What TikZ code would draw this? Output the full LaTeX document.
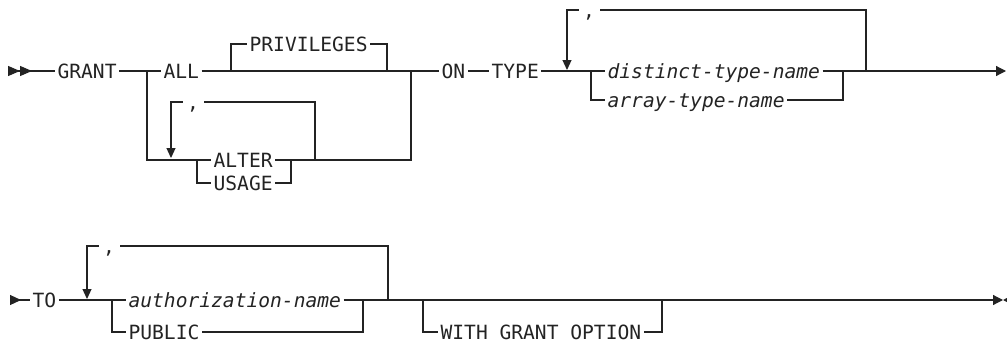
\documentclass[tikz,border=0pt]{standalone}
\usepackage{fontspec}
\usepackage{tikz}
\usetikzlibrary{arrows.meta}
\newfontfamily\railfont{DejaVu Sans Mono}[ItalicFont={DejaVu Sans Mono Oblique}]
\definecolor{RailInk}{RGB}{35,35,35}

\begin{document}
\begin{tikzpicture}[x=1pt,y=-1pt,line width=1.2pt,RailInk,font=\railfont\fontsize{19.6pt}{20pt}\selectfont,
  kw/.style={anchor=west,inner xsep=2pt,inner ysep=0pt,text height=14.4pt,text depth=0pt},
  sepc/.style={kw,anchor=center,inner xsep=4pt},
  loopdown/.style={-{Triangle[length=10pt,width=9pt]}},
  railend/.style={-{Triangle[length=10pt,width=10pt]}},
  railstart/.style={{Triangle[reversed,length=12pt,width=10pt]Triangle[reversed,length=12pt,width=10pt]}-},
  railcont/.style={{Triangle[reversed,length=11pt,width=10pt]}-}]
\useasboundingbox (0,0) rectangle (1007,343);
\node[kw] (grant) at (55,71) {GRANT};\node[kw] (all) at (161,71) {ALL};\node[kw] (priv) at (247,44) {PRIVILEGES};
\node[kw] (alter) at (211,160) {ALTER};\node[kw] (usage) at (211,183) {USAGE};\node[sepc] (c2) at (193,102) {,};
\node[kw] (on) at (439,71) {ON};\node[kw] (type) at (489,71) {TYPE};\node[sepc] (c1) at (589,10) {,};
\node[kw] (dtn) at (605,71) {\itshape distinct-type-name};\node[kw] (atn) at (605,100) {\itshape array-type-name};
\coordinate (s1) at (8,71);\coordinate (br1) at (147,71);\coordinate (p1) at (231,71);\coordinate (p2) at (387,71);\coordinate (j1) at (411,71);
\coordinate (lb1) at (197,160);\coordinate (rb1) at (291,160);\coordinate (lp1l) at (171,158);\coordinate (lp1r) at (315,160);
\coordinate (lb2) at (591,71);\coordinate (rb2) at (843,71);\coordinate (lp2l) at (567,70);\coordinate (lp2r) at (866,71);\coordinate (e1) at (1006,71);
\draw[railstart] (s1) -- (grant.west);\draw (grant.east) -- (all.west);\draw (all.east) -- (on.west);
\draw (p1) |- (priv.west);\draw (priv.east) -| (p2);
\draw (br1) |- (alter.west);\draw (alter.east) -| (j1);\draw (lb1) |- (usage.west);\draw (usage.east) -| (rb1);
\draw (lp1r) |- (c2.east);\draw[loopdown] (c2.west) -| (lp1l);
\draw (on.east) -- (type.west);\draw (type.east) -- (dtn.west);\draw[railend] (dtn.east) -- (e1);
\draw (lb2) |- (atn.west);\draw (atn.east) -| (rb2);
\draw (lp2r) |- (c1.east);\draw[loopdown] (c1.west) -| (lp2l);
\node[kw] (to) at (30,300) {TO};\node[sepc] (c3) at (109,246) {,};
\node[kw] (authn) at (126,300) {\itshape authorization-name};\node[kw] (public) at (126,332) {PUBLIC};
\node[kw] (wgo) at (438,332) {WITH GRANT OPTION};
\coordinate (s2) at (10,300);\coordinate (lb3) at (112,300);\coordinate (rb3) at (363,300);\coordinate (lp3l) at (87,299);\coordinate (lp3r) at (388,300);
\coordinate (lb4) at (423,300);\coordinate (rb4) at (662,300);\coordinate (e2) at (1003,300);\coordinate (e3) at (1016,300);
\draw[railcont] (s2) -- (to.west);\draw (to.east) -- (authn.west);\draw[railend] (authn.east) -- (e2);\draw[railend] (e3) -- (e2);
\draw (lb3) |- (public.west);\draw (public.east) -| (rb3);
\draw (lp3r) |- (c3.east);\draw[loopdown] (c3.west) -| (lp3l);
\draw (lb4) |- (wgo.west);\draw (wgo.east) -| (rb4);
\end{tikzpicture}
\end{document}
